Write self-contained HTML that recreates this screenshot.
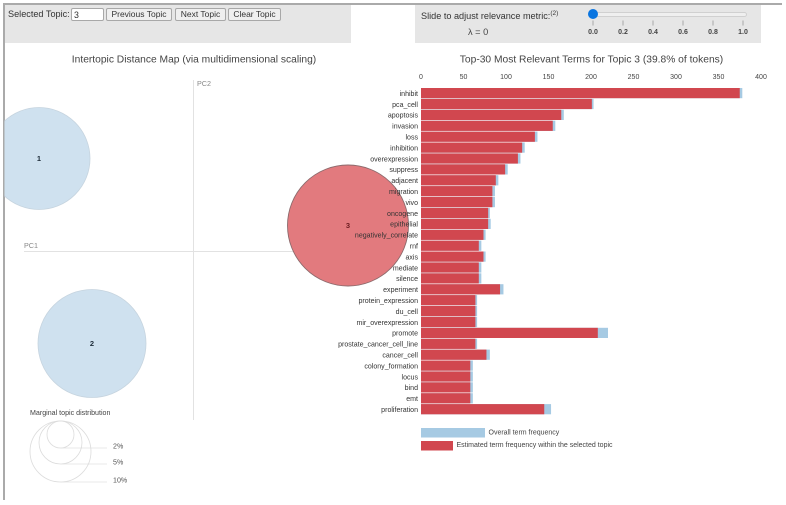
<!DOCTYPE html>
<html lang="en">
<head>
<meta charset="utf-8">
<title>Topic model visualization</title>
<style>
html,body{margin:0;padding:0;background:#fff;}
body{width:786px;height:505px;overflow:hidden;position:relative;font-family:"Liberation Sans",Arial,sans-serif;color:#333;filter:blur(0.3px);}
.abs{position:absolute;box-sizing:border-box;}
button{position:absolute;box-sizing:border-box;height:13px;padding:0;margin:0;background:#efefef;border:1px solid #a8a8a8;border-radius:2px;font:8.5px "Liberation Sans",Arial,sans-serif;color:#333;text-align:center;line-height:11px;}
input{position:absolute;box-sizing:border-box;padding:0 2px;margin:0;background:#fff;border:1px solid #a8a8a8;border-radius:2px;font:8.8px "Liberation Sans",Arial,sans-serif;color:#333;}
svg{position:absolute;left:0;top:0;}
svg text{font-family:"Liberation Sans",Arial,sans-serif;}
</style>
</head>
<body>
<div class="abs" style="left:3px;top:3px;width:779px;height:1.5px;background:#aaa;"></div>
<div class="abs" style="left:3px;top:3px;width:1.5px;height:497px;background:#aaa;"></div>
<div class="abs" style="left:4.5px;top:4.5px;width:346px;height:38.5px;background:#e6e6e6;"></div>
<div class="abs" style="left:415px;top:4.5px;width:345.5px;height:38.5px;background:#e6e6e6;"></div>
<div class="abs" style="left:8px;top:9px;font-size:9.15px;line-height:11px;color:#333;white-space:nowrap;">Selected Topic:</div>
<input type="text" value="3" style="left:71px;top:8px;width:33px;height:13px;">
<button style="left:106px;top:8px;width:66px;">Previous Topic</button>
<button style="left:175px;top:8px;width:51px;">Next Topic</button>
<button style="left:228px;top:8px;width:53px;">Clear Topic</button>
<div class="abs" style="left:421px;top:11px;font-size:9.15px;line-height:11px;color:#333;white-space:nowrap;">Slide to adjust relevance metric:<sup style="font-size:6.5px;line-height:0;">(2)</sup></div>
<div class="abs" style="left:468px;top:27px;font-size:9.2px;line-height:11px;color:#444;white-space:nowrap;">λ = 0</div>
<div class="abs" style="left:592px;top:12px;width:155px;height:5px;background:#efefef;border:1px solid #d0d0d0;border-radius:3px;"></div>
<div class="abs" style="left:587.7px;top:9.3px;width:10px;height:10px;background:#0a75e0;border-radius:50%;"></div>
<svg id="chart" width="786" height="505" viewBox="0 0 786 505"></svg>
<script>
// Bar chart data
var terms = ["inhibit","pca_cell","apoptosis","invasion","loss","inhibition","overexpression","suppress","adjacent","migration","vivo","oncogene","epithelial","negatively_correlate","rnf","axis","mediate","silence","experiment","protein_expression","du_cell","mir_overexpression","promote","prostate_cancer_cell_line","cancer_cell","colony_formation","locus","bind","emt","proliferation"];
var overallFreq = [378,203,168,158,137,122,117,102,91,87,87,81,82,76,71,76,71,71,97,66,66,66,220,66,81,61,61,61,61,153];
var topicFreq = [375,201,165,155,134,119,114,99,88,84,84,79,79,73.5,68,73.5,68,68,93,64,64,64,208,64,77,58,58,58,58,145];
var xTicks = [0,50,100,150,200,250,300,350,400];
// Topic scatter data (MDS coordinates and marginal share)
var topicIds = [1,2,3];
var pc1 = [-0.1545,-0.1015,0.1545];
var pc2 = [0.0925,-0.0925,0.0255];
var topicRadius = [51,54,60.5];
var selectedTopic = 3;
// Slider tick labels and size legend
var sliderTicks = ["0.0","0.2","0.4","0.6","0.8","1.0"];
var sizeLegendPct = ["2%","5%","10%"];
var sizeLegendRadius = [13.5,21.5,30.5];

var NS = "http://www.w3.org/2000/svg";
var svg = document.getElementById("chart");
function add(tag, attrs, text){
  var el = document.createElementNS(NS, tag);
  for (var k in attrs) el.setAttribute(k, attrs[k]);
  if (text !== undefined) el.textContent = text;
  svg.appendChild(el);
  return el;
}
function xBar(v){ return 421 + v * 0.85; }
function yBar(i){ return 88 + i * 10.9; }
function xMds(v){ return 193.5 + v * 1000; }
function yMds(v){ return 251 - v * 1000; }
function xSlider(i){ return 593 + i * 30; }

var el;
el = add("text",{x:194,y:62.5,"text-anchor":"middle","font-size":"10.25px",fill:"#444"},"Intertopic Distance Map (via multidimensional scaling)");


el = add("text",{x:591.5,y:62.5,"text-anchor":"middle","font-size":"10.25px",fill:"#444"},"Top-30 Most Relevant Terms for Topic 3 (39.8% of tokens)");



// Slider ticks
sliderTicks.forEach(function(t,i){
  var l = add("line",{x1:xSlider(i),x2:xSlider(i),y1:20.5,y2:25.5,stroke:"#999","stroke-width":0.8});
  
  
  var s = add("text",{x:xSlider(i),y:34,"text-anchor":"middle","font-size":"7px","font-weight":"bold",fill:"#444"},t);
  
  
});

// MDS axes
el = add("line",{x1:24,x2:385,y1:251.5,y2:251.5,stroke:"#e2e2e2","stroke-width":1});


el = add("line",{x1:193.5,x2:193.5,y1:80,y2:420,stroke:"#e2e2e2","stroke-width":1});


el = add("text",{x:24,y:248,"font-size":"7.2px",fill:"#888"},"PC1");


el = add("text",{x:197,y:86,"font-size":"7.2px",fill:"#888"},"PC2");



// Topic circles
topicIds.forEach(function(id,i){
  var sel = id === selectedTopic;
  var c = add("circle",{cx:xMds(pc1[i]),cy:yMds(pc2[i]),r:topicRadius[i],
    fill:sel?"#e27a7e":"#cfe1ef",stroke:sel?"#8c6a6c":"#c6d4df","stroke-width":sel?0.9:0.8});
  
  
  var t = add("text",{x:xMds(pc1[i]),y:yMds(pc2[i])+2.5,"text-anchor":"middle","font-size":"7.5px","font-weight":"bold",fill:sel?"#6b1b20":"#1d2b38"},id);
  
  
});
// Mask the part of circle 1 left of the page border
el = add("rect",{x:0,y:90,width:3,height:140,fill:"#fff"});


el = add("rect",{x:3,y:90,width:1.5,height:140,fill:"#aaa"});



// Size legend
el = add("text",{x:30,y:415,"font-size":"7.1px",fill:"#444"},"Marginal topic distribution");


sizeLegendPct.forEach(function(p,i){
  var r = sizeLegendRadius[i], cy = 421 + r, by = 421 + 2*r;
  var c = add("circle",{cx:60.5,cy:cy,r:r,fill:"none",stroke:"#dcdcdc","stroke-width":0.8});
  
  
  var l = add("line",{x1:60.5,x2:107,y1:by,y2:by,stroke:"#e0e0e0","stroke-width":0.8});
  
  
  var t = add("text",{x:113,y:by+0.5,"font-size":"7.1px",fill:"#555"},p);
  
  
});

// Bar axis ticks
xTicks.forEach(function(v){
  var t = add("text",{x:xBar(v),y:79,"text-anchor":"middle","font-size":"7px",fill:"#444"},v);
  
  
});

// Bars
terms.forEach(function(term,i){
  var y = yBar(i);
  var a = add("rect",{x:xBar(0),y:y,width:overallFreq[i]*0.85,height:10.2,fill:"#a6cae3"});
  
  
  var b = add("rect",{x:xBar(0),y:y,width:topicFreq[i]*0.85,height:10.2,fill:"#d1474f"});
  
  
  var t = add("text",{x:418,y:y+7.9,"text-anchor":"end","font-size":"7.05px",fill:"#333"},term);
  
  
});

// Bar legend
el = add("rect",{x:421,y:428,width:64,height:9.5,fill:"#a6cae3"});


el = add("text",{x:488.5,y:434.5,"font-size":"7px",fill:"#444"},"Overall term frequency");


el = add("rect",{x:421,y:441,width:32,height:9.5,fill:"#d1474f"});


el = add("text",{x:456.5,y:447,"font-size":"7px",fill:"#444"},"Estimated term frequency within the selected topic");


</script>
</body>
</html>
